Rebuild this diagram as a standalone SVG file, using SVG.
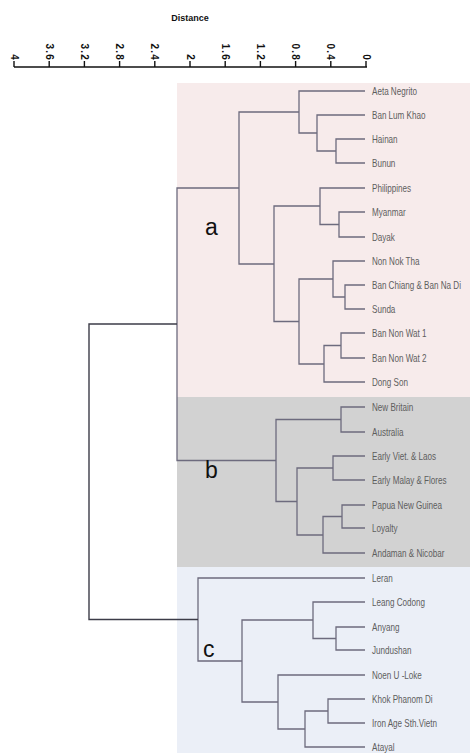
<svg xmlns="http://www.w3.org/2000/svg" width="470" height="753" viewBox="0 0 470 753">
<style>
.ax{stroke:#111;stroke-width:1.4;fill:none}
.tk{font-family:"Liberation Sans",Arial,sans-serif;font-size:10px;font-weight:bold;fill:#111;letter-spacing:1.2px}
.ttl{font-family:"Liberation Sans",Arial,sans-serif;font-size:9px;font-weight:bold;fill:#111}
.br{stroke:#6d6b7e;stroke-width:1.3;fill:none}
.rt{stroke:#3c3c48;stroke-width:1.4;fill:none}
.lf{font-family:"Liberation Sans",Arial,sans-serif;font-size:10px;fill:#5e5e5e}
.big{font-family:"Liberation Sans",Arial,sans-serif;font-size:23px;fill:#111}
</style>
<rect width="470" height="753" fill="#ffffff"/>
<g id="regions">
<rect x="177" y="83" width="293" height="314" fill="#f7ebeb"/>
<rect x="177" y="397" width="293" height="170" fill="#d2d2d2"/>
<rect x="177" y="567" width="293" height="186" fill="#ebeff7"/>
</g>
<g id="axis">
<text x="190" y="21" text-anchor="middle" class="ttl">Distance</text>
<line x1="14" y1="67" x2="367" y2="67" class="ax"/>
<path class="ax" d="M14,61V67M49.2,61V67M84.4,61V67M119.6,61V67M154.8,61V67M190,61V67M225.2,61V67M260.4,61V67M295.6,61V67M330.8,61V67M366,61V67"/>
<text class="tk" text-anchor="end" dominant-baseline="central" transform="translate(14 61) rotate(90)">4</text>
<text class="tk" text-anchor="end" dominant-baseline="central" transform="translate(49.2 61) rotate(90)">3.6</text>
<text class="tk" text-anchor="end" dominant-baseline="central" transform="translate(84.4 61) rotate(90)">3.2</text>
<text class="tk" text-anchor="end" dominant-baseline="central" transform="translate(119.6 61) rotate(90)">2.8</text>
<text class="tk" text-anchor="end" dominant-baseline="central" transform="translate(154.8 61) rotate(90)">2.4</text>
<text class="tk" text-anchor="end" dominant-baseline="central" transform="translate(190 61) rotate(90)">2</text>
<text class="tk" text-anchor="end" dominant-baseline="central" transform="translate(225.2 61) rotate(90)">1.6</text>
<text class="tk" text-anchor="end" dominant-baseline="central" transform="translate(260.4 61) rotate(90)">1.2</text>
<text class="tk" text-anchor="end" dominant-baseline="central" transform="translate(295.6 61) rotate(90)">0.8</text>
<text class="tk" text-anchor="end" dominant-baseline="central" transform="translate(330.8 61) rotate(90)">0.4</text>
<text class="tk" text-anchor="end" dominant-baseline="central" transform="translate(366 61) rotate(90)">0</text>
</g>
<g id="connectors">
<path class="br" d="M365,139H336V163H365"/>
<path class="br" d="M365,115H317V151H336"/>
<path class="br" d="M365,91H299V133H317"/>
<path class="br" d="M365,212H339V237H365"/>
<path class="br" d="M365,188H320V224.5H339"/>
<path class="br" d="M365,285H345V309H365"/>
<path class="br" d="M365,261H333V297H345"/>
<path class="br" d="M365,333H341V358H365"/>
<path class="br" d="M341,345.5H324V382H365"/>
<path class="br" d="M333,279H299V364H324"/>
<path class="br" d="M320,206H274V321.5H299"/>
<path class="br" d="M299,112H239V264H274"/>
<path class="br" d="M365,407H341V432H365"/>
<path class="br" d="M365,456H333V480H365"/>
<path class="br" d="M365,505H342V528H365"/>
<path class="br" d="M342,516.5H323V553H365"/>
<path class="br" d="M333,468H297V535H323"/>
<path class="br" d="M341,419.5H276V501.5H297"/>
<path class="br" d="M239,188H177V460.5H276"/>
<path class="br" d="M365,627H336V650H365"/>
<path class="br" d="M365,602H313V638.5H336"/>
<path class="br" d="M365,699H328V723H365"/>
<path class="br" d="M328,711H305V747H365"/>
<path class="br" d="M365,675H278V729H305"/>
<path class="br" d="M313,620H242V702H278"/>
<path class="br" d="M365,578H198V661H242"/>
<path class="rt" d="M177,324H89V619.5H198"/>
</g>
<g id="groups">
<text class="big" x="205" y="235">a</text>
<text class="big" x="205" y="478">b</text>
<text class="big" x="203" y="657">c</text>
</g>
<g id="leaf-aeta"><text class="lf" transform="translate(372 94.5) scale(0.81 1)">Aeta Negrito</text></g>
<g id="leaf-banlumkhao"><text class="lf" transform="translate(372 118.5) scale(0.81 1)">Ban Lum Khao</text></g>
<g id="leaf-hainan"><text class="lf" transform="translate(372 142.5) scale(0.81 1)">Hainan</text></g>
<g id="leaf-bunun"><text class="lf" transform="translate(372 166.5) scale(0.81 1)">Bunun</text></g>
<g id="leaf-philippines"><text class="lf" transform="translate(372 191.5) scale(0.81 1)">Philippines</text></g>
<g id="leaf-myanmar"><text class="lf" transform="translate(372 215.5) scale(0.81 1)">Myanmar</text></g>
<g id="leaf-dayak"><text class="lf" transform="translate(372 240.5) scale(0.81 1)">Dayak</text></g>
<g id="leaf-nonnoktha"><text class="lf" transform="translate(372 264.5) scale(0.81 1)">Non Nok Tha</text></g>
<g id="leaf-banchiang"><text class="lf" transform="translate(372 288.5) scale(0.81 1)">Ban Chiang &amp; Ban Na Di</text></g>
<g id="leaf-sunda"><text class="lf" transform="translate(372 312.5) scale(0.81 1)">Sunda</text></g>
<g id="leaf-bnw1"><text class="lf" transform="translate(372 336.5) scale(0.81 1)">Ban Non Wat 1</text></g>
<g id="leaf-bnw2"><text class="lf" transform="translate(372 361.5) scale(0.81 1)">Ban Non Wat 2</text></g>
<g id="leaf-dongson"><text class="lf" transform="translate(372 385.5) scale(0.81 1)">Dong Son</text></g>
<g id="leaf-newbritain"><text class="lf" transform="translate(372 410.5) scale(0.81 1)">New Britain</text></g>
<g id="leaf-australia"><text class="lf" transform="translate(372 435.5) scale(0.81 1)">Australia</text></g>
<g id="leaf-earlyviet"><text class="lf" transform="translate(372 459.5) scale(0.81 1)">Early Viet. &amp; Laos</text></g>
<g id="leaf-earlymalay"><text class="lf" transform="translate(372 483.5) scale(0.81 1)">Early Malay &amp; Flores</text></g>
<g id="leaf-papua"><text class="lf" transform="translate(372 508.5) scale(0.81 1)">Papua New Guinea</text></g>
<g id="leaf-loyalty"><text class="lf" transform="translate(372 531.5) scale(0.81 1)">Loyalty</text></g>
<g id="leaf-andaman"><text class="lf" transform="translate(372 556.5) scale(0.81 1)">Andaman &amp; Nicobar</text></g>
<g id="leaf-leran"><text class="lf" transform="translate(372 581.5) scale(0.81 1)">Leran</text></g>
<g id="leaf-leangcodong"><text class="lf" transform="translate(372 605.5) scale(0.81 1)">Leang Codong</text></g>
<g id="leaf-anyang"><text class="lf" transform="translate(372 630.5) scale(0.81 1)">Anyang</text></g>
<g id="leaf-jundushan"><text class="lf" transform="translate(372 653.5) scale(0.81 1)">Jundushan</text></g>
<g id="leaf-noen"><text class="lf" transform="translate(372 678.5) scale(0.81 1)">Noen U -Loke</text></g>
<g id="leaf-khok"><text class="lf" transform="translate(372 702.5) scale(0.81 1)">Khok Phanom Di</text></g>
<g id="leaf-ironage"><text class="lf" transform="translate(372 726.5) scale(0.81 1)">Iron Age Sth.Vietn</text></g>
<g id="leaf-atayal"><text class="lf" transform="translate(372 750.5) scale(0.81 1)">Atayal</text></g>
</svg>
